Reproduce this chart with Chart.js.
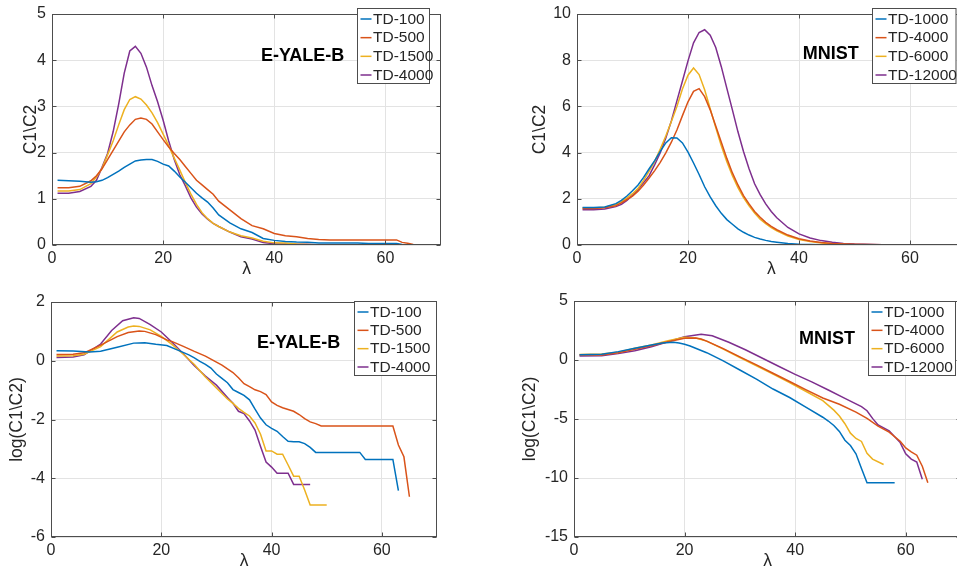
<!DOCTYPE html>
<html><head><meta charset="utf-8">
<script src="https://cdn.jsdelivr.net/npm/chart.js@4.4.1/dist/chart.umd.min.js"></script>
<style>
html,body{margin:0;padding:0;background:#fff;overflow:hidden;width:957px;height:569px;position:relative;}
canvas{position:absolute;}
</style></head><body>
<canvas id="c1" width="470" height="285" style="left:0;top:0"></canvas>
<canvas id="c2" width="510" height="285" style="left:480px;top:0"></canvas>
<canvas id="c3" width="470" height="284" style="left:0;top:285px"></canvas>
<canvas id="c4" width="510" height="284" style="left:480px;top:285px"></canvas>
<script>
// ---------------- DATA ----------------
const xTicks = [0, 20, 40, 60];
const yTicksYale = [0, 1, 2, 3, 4, 5];
const yTicksMnist = [0, 2, 4, 6, 8, 10];
const yTicksYaleLog = [-6, -4, -2, 0, 2];
const yTicksMnistLog = [-15, -10, -5, 0, 5];

const yaleLabels = ['TD-100', 'TD-500', 'TD-1500', 'TD-4000'];
const mnistLabels = ['TD-1000', 'TD-4000', 'TD-6000', 'TD-12000'];

// E-YALE-B, C1\C2
const yaleX = [1,3,5,7,8,9,10,11,12,13,14,15,16,17,18,19,20,21,22,23,24,25,26,27,28,29,30,32,34,36,38,40,42,44,46,48,50,55,57,60,62,63,64,65,66,70];
const yaleTD100 = [1.40,1.39,1.38,1.36,1.37,1.40,1.46,1.53,1.60,1.68,1.75,1.82,1.84,1.85,1.85,1.81,1.75,1.71,1.60,1.47,1.36,1.24,1.12,1.02,0.93,0.80,0.65,0.48,0.35,0.27,0.14,0.10,0.075,0.063,0.059,0.044,0.044,0.044,0.035,0.035,0.035,0.012,0,0,0,0];
const yaleTD500 = [1.24,1.24,1.27,1.39,1.50,1.65,1.85,2.05,2.25,2.45,2.60,2.72,2.75,2.72,2.62,2.45,2.28,2.12,1.98,1.85,1.70,1.55,1.40,1.30,1.20,1.10,0.95,0.76,0.57,0.42,0.35,0.25,0.20,0.18,0.14,0.12,0.11,0.11,0.11,0.11,0.11,0.057,0.038,0.01,0,0];
const yaleTD1500 = [1.17,1.17,1.20,1.33,1.47,1.66,1.95,2.25,2.60,2.93,3.15,3.21,3.16,3.03,2.86,2.65,2.40,2.15,1.88,1.62,1.35,1.10,0.88,0.70,0.57,0.47,0.40,0.28,0.20,0.15,0.08,0.046,0.042,0.02,0.012,0.007,0.007,0,0,0,0,0,0,0,0,0];
const yaleTD4000 = [1.12,1.12,1.16,1.27,1.40,1.68,1.98,2.45,3.05,3.72,4.20,4.30,4.15,3.85,3.45,3.10,2.70,2.25,1.85,1.52,1.28,1.02,0.82,0.67,0.56,0.47,0.40,0.28,0.18,0.13,0.055,0.027,0.022,0.015,0.015,0,0,0,0,0,0,0,0,0,0,0];

// MNIST, C1\C2
const mnistX = [1,3,5,7,8,9,10,11,12,13,14,15,16,17,18,19,20,21,22,23,24,25,26,27,28,29,30,31,32,33,34,35,36,38,40,42,44,46,48,50,55,60,65,70];
const mnistTD1000 = [1.62,1.62,1.65,1.79,1.93,2.12,2.35,2.60,2.93,3.30,3.65,4.05,4.42,4.64,4.63,4.42,4.02,3.55,3.05,2.52,2.08,1.70,1.37,1.10,0.90,0.70,0.55,0.43,0.33,0.26,0.20,0.15,0.12,0.07,0.035,0.018,0.009,0.005,0.003,0.001,0,0,0,0];
const mnistTD4000 = [1.58,1.58,1.61,1.70,1.82,1.97,2.12,2.33,2.60,2.90,3.22,3.58,3.99,4.45,4.98,5.60,6.20,6.65,6.77,6.42,5.85,5.15,4.45,3.75,3.12,2.60,2.14,1.78,1.45,1.20,0.98,0.81,0.66,0.43,0.27,0.17,0.11,0.07,0.045,0.03,0.01,0.003,0,0];
const mnistTD6000 = [1.60,1.60,1.63,1.75,1.88,2.04,2.22,2.45,2.80,3.20,3.62,4.15,4.72,5.35,6.00,6.75,7.35,7.66,7.38,6.72,5.90,5.08,4.30,3.60,3.00,2.48,2.05,1.70,1.38,1.12,0.92,0.75,0.61,0.39,0.24,0.15,0.09,0.05,0.025,0.008,0,0,0,0];
const mnistTD12000 = [1.53,1.53,1.56,1.66,1.76,1.93,2.15,2.40,2.70,3.00,3.48,4.00,4.63,5.37,6.24,7.10,7.97,8.75,9.20,9.32,9.08,8.55,7.72,6.78,5.85,4.90,4.05,3.30,2.65,2.18,1.78,1.45,1.18,0.76,0.48,0.30,0.19,0.12,0.07,0.045,0.012,0.003,0,0];

// E-YALE-B, log(C1\C2)
const yaleLogX100 = [1,4,7,9,12,15,17,19,21,23,25,26,27,28,29,30,31,32,33,34,35,36,37,38,39,40,41,42,43,44,45,46,47,48,56,57,62,63];
const yaleLog100 = [0.34,0.33,0.30,0.32,0.46,0.60,0.61,0.56,0.52,0.36,0.20,0.10,-0.02,-0.12,-0.25,-0.45,-0.60,-0.75,-0.98,-1.08,-1.18,-1.33,-1.65,-1.95,-2.18,-2.30,-2.40,-2.58,-2.74,-2.76,-2.76,-2.82,-2.95,-3.12,-3.12,-3.36,-3.36,-4.42];
const yaleLogX500 = [1,4,6,9,12,14,16,17,19,21,22,24,26,28,30,31,32,33,34,35,36,37,38,39,40,41,42,43,44,45,46,47,48,49,62,63,64,65];
const yaleLog500 = [0.21,0.22,0.27,0.53,0.82,0.96,1.01,1.00,0.89,0.71,0.65,0.49,0.32,0.16,-0.05,-0.15,-0.28,-0.40,-0.58,-0.78,-0.88,-0.99,-1.05,-1.15,-1.40,-1.52,-1.60,-1.66,-1.72,-1.83,-1.97,-2.08,-2.14,-2.22,-2.22,-2.87,-3.27,-4.63];
const yaleLogX1500 = [1,4,6,9,12,14,15,16,18,20,22,24,26,28,30,32,33,34,35,36,37,38,39,40,41,42,43,44,45,46,47,50];
const yaleLog1500 = [0.16,0.17,0.22,0.48,0.98,1.15,1.18,1.17,1.05,0.83,0.55,0.22,-0.13,-0.55,-0.93,-1.30,-1.45,-1.62,-1.76,-1.88,-2.12,-2.50,-3.07,-3.07,-3.18,-3.18,-3.55,-3.93,-3.93,-4.40,-4.91,-4.91];
const yaleLogX4000 = [1,4,6,9,11,13,15,16,18,20,22,24,26,28,30,32,33,34,35,36,37,38,39,40,41,43,44,47];
const yaleLog4000 = [0.11,0.13,0.20,0.57,1.03,1.36,1.46,1.44,1.23,0.98,0.62,0.24,-0.17,-0.52,-0.83,-1.25,-1.45,-1.72,-1.80,-2.05,-2.36,-2.92,-3.45,-3.62,-3.83,-3.83,-4.21,-4.21];

// MNIST, log(C1\C2)
const mnistLogX1000 = [1,5,8,11,14,16,18,19,20,21,22,24,27,30,33,36,39,42,45,46,47,48,49,50,51,52,53,58];
const mnistLog1000 = [0.45,0.48,0.71,0.99,1.27,1.44,1.50,1.44,1.33,1.19,1.00,0.62,-0.07,-0.85,-1.62,-2.46,-3.18,-4.02,-4.85,-5.17,-5.55,-6.05,-6.80,-7.25,-7.95,-9.20,-10.40,-10.40];
const mnistLogX4000 = [1,5,8,11,14,17,20,22,23,24,27,30,33,36,39,42,45,48,51,53,55,57,59,60,61,62,63,64];
const mnistLog4000 = [0.42,0.43,0.62,0.90,1.21,1.55,1.84,1.87,1.78,1.60,0.97,0.27,-0.41,-1.12,-1.82,-2.53,-3.22,-3.75,-4.42,-4.95,-5.60,-6.12,-6.88,-7.45,-7.78,-8.07,-9.00,-10.40];
const mnistLogX6000 = [1,5,8,11,14,17,20,22,24,27,30,33,36,39,42,45,47,48,49,50,51,52,53,54,56];
const mnistLog6000 = [0.47,0.50,0.65,0.99,1.27,1.64,1.92,1.86,1.60,0.92,0.21,-0.49,-1.20,-1.91,-2.67,-3.44,-4.25,-4.75,-5.40,-6.20,-6.65,-6.90,-7.90,-8.40,-8.86];
const mnistLogX12000 = [1,5,8,11,14,17,20,23,25,28,31,34,37,40,43,46,49,52,53,54,55,57,59,60,61,62,63];
const mnistLog12000 = [0.34,0.37,0.54,0.79,1.13,1.55,1.98,2.18,2.05,1.50,0.87,0.17,-0.53,-1.22,-1.85,-2.54,-3.25,-3.95,-4.30,-4.95,-5.50,-6.00,-7.00,-7.95,-8.40,-8.65,-10.10];

// ---------------- STYLE ----------------
const COLORS = ['#0072BD', '#D95319', '#EDB120', '#7E2F8E'];
const FONT = "'Liberation Sans', Arial, Helvetica, sans-serif";
const TXT = '#262626';
const GRID = '#e3e3e3';
const AXIS = '#4d4d4d';

function pts(xs, ys) { return xs.map((x, i) => ({ x: x, y: ys[i] })); }

const panels = [
  { id: 'c1', left: 0, top: 0, w: 470, h: 285, area: { l: 52, t: 9, r: 441, b: 245 },
    yMin: 0, yMax: 5, yTicks: yTicksYale, yLabel: 'C1\\C2', yLabelX: 31,
    title: { text: 'E-YALE-B', x: 45.1, y: 4.09 },
    legend: { l: 357, t: 8, r: 430, b: 84 },
    labels: yaleLabels,
    series: [pts(yaleX, yaleTD100), pts(yaleX, yaleTD500), pts(yaleX, yaleTD1500), pts(yaleX, yaleTD4000)] },
  { id: 'c2', left: 480, top: 0, w: 510, h: 285, area: { l: 577, t: 9, r: 965.5, b: 245 },
    yMin: 0, yMax: 10, yTicks: yTicksMnist, yLabel: 'C1\\C2', yLabelX: 540,
    title: { text: 'MNIST', x: 45.7, y: 8.26 },
    legend: { l: 872, t: 8, r: 956.5, b: 84 },
    labels: mnistLabels,
    series: [pts(mnistX, mnistTD1000), pts(mnistX, mnistTD4000), pts(mnistX, mnistTD6000), pts(mnistX, mnistTD12000)] },
  { id: 'c3', left: 0, top: 285, w: 470, h: 284, area: { l: 51, t: 302, r: 437, b: 537 },
    yMin: -6, yMax: 2, yTicks: yTicksYaleLog, yLabel: 'log(C1\\C2)', yLabelX: 17,
    title: { text: 'E-YALE-B', x: 44.9, y: 0.6 },
    legend: { l: 354, t: 301, r: 437, b: 376 },
    labels: yaleLabels,
    series: [pts(yaleLogX100, yaleLog100), pts(yaleLogX500, yaleLog500), pts(yaleLogX1500, yaleLog1500), pts(yaleLogX4000, yaleLog4000)] },
  { id: 'c4', left: 480, top: 285, w: 510, h: 284, area: { l: 574, t: 301, r: 961, b: 537 },
    yMin: -15, yMax: 5, yTicks: yTicksMnistLog, yLabel: 'log(C1\\C2)', yLabelX: 530,
    title: { text: 'MNIST', x: 45.75, y: 1.78 },
    legend: { l: 868, t: 301, r: 956, b: 376 },
    labels: mnistLabels,
    series: [pts(mnistLogX1000, mnistLog1000), pts(mnistLogX4000, mnistLog4000), pts(mnistLogX6000, mnistLog6000), pts(mnistLogX12000, mnistLog12000)] }
];

const decor = {
  id: 'decor',
  afterDraw(chart, args, opts) {
    const p = opts.panel;
    const ctx = chart.ctx;
    const a = chart.chartArea;
    const xs = chart.scales.x, ys = chart.scales.y;
    ctx.save();
    // box
    ctx.strokeStyle = AXIS; ctx.lineWidth = 1;
    const L = Math.round(a.left) + 0.5, R = Math.round(a.right) - 0.5, T = Math.round(a.top) + 0.5, B = Math.round(a.bottom) - 0.5;
    ctx.strokeRect(L, T, R - L, B - T);
    // inward ticks on all four sides
    const tl = 4;
    ctx.beginPath();
    xTicks.forEach(v => {
      const px = Math.round(xs.getPixelForValue(v)) + 0.5;
      ctx.moveTo(px, B); ctx.lineTo(px, B - tl);
      ctx.moveTo(px, T); ctx.lineTo(px, T + tl);
    });
    p.yTicks.forEach(v => {
      const py = Math.round(ys.getPixelForValue(v)) + 0.5;
      ctx.moveTo(L, py); ctx.lineTo(L + tl, py);
      ctx.moveTo(R, py); ctx.lineTo(R - tl, py);
    });
    ctx.stroke();
    // axis labels
    ctx.fillStyle = TXT;
    ctx.font = '17.5px ' + FONT;
    ctx.textAlign = 'center'; ctx.textBaseline = 'middle';
    ctx.fillText('\u03BB', (a.left + a.right) / 2, a.bottom + 24);
    ctx.save();
    ctx.translate(p.yLabelX - p.left, (a.top + a.bottom) / 2);
    ctx.rotate(-Math.PI / 2);
    ctx.fillText(p.yLabel, 0, 0);
    ctx.restore();
    // annotation
    ctx.fillStyle = '#000';
    ctx.font = 'bold 18px ' + FONT;
    ctx.fillText(p.title.text, xs.getPixelForValue(p.title.x), ys.getPixelForValue(p.title.y));
    // legend
    const lg = p.legend;
    const bl = lg.l - p.left + 0.5, bt = lg.t - p.top + 0.5, br = lg.r - p.left - 0.5, bb = lg.b - p.top - 0.5;
    ctx.fillStyle = '#fff';
    ctx.fillRect(bl, bt, br - bl, bb - bt);
    ctx.strokeStyle = AXIS; ctx.lineWidth = 1;
    ctx.strokeRect(bl, bt, br - bl, bb - bt);
    const rowH = (lg.b - lg.t - 20) / 3;
    ctx.font = '15.5px ' + FONT;
    ctx.textAlign = 'left';
    chart.data.datasets.forEach((ds, i) => {
      const cy = lg.t - p.top + 11 + i * rowH;
      ctx.strokeStyle = ds.borderColor; ctx.lineWidth = 1.5;
      ctx.beginPath();
      ctx.moveTo(bl + 3, cy); ctx.lineTo(bl + 14, cy);
      ctx.stroke();
      ctx.fillStyle = TXT;
      ctx.fillText(ds.label, bl + 15.5, cy + 0.5);
    });
    ctx.restore();
  }
};

panels.forEach(p => {
  const a = p.area;
  new Chart(document.getElementById(p.id), {
    type: 'line',
    data: {
      datasets: p.series.map((s, i) => ({
        label: p.labels[i], data: s, borderColor: COLORS[i], backgroundColor: COLORS[i],
        borderWidth: 1.5, pointRadius: 0, tension: 0, fill: false
      }))
    },
    options: {
      responsive: false, animation: false, devicePixelRatio: 1,
      layout: { padding: { left: 0, top: a.t - p.top, right: p.left + p.w - a.r, bottom: 0 } },
      plugins: { legend: { display: false }, tooltip: { enabled: false }, decor: { panel: p } },
      scales: {
        x: {
          type: 'linear', min: 0, max: 70,
          afterBuildTicks: s => { s.ticks = xTicks.map(v => ({ value: v })); },
          afterFit: s => { s.height = p.top + p.h - a.b; },
          ticks: { font: { family: FONT, size: 16, lineHeight: 1 }, color: TXT, padding: 6, maxRotation: 0, autoSkip: false },
          grid: { color: GRID, drawTicks: false, lineWidth: 1 },
          border: { display: false }
        },
        y: {
          type: 'linear', min: p.yMin, max: p.yMax,
          afterBuildTicks: s => { s.ticks = p.yTicks.map(v => ({ value: v })); },
          afterFit: s => { s.width = a.l - p.left; },
          ticks: { font: { family: FONT, size: 16, lineHeight: 1 }, color: TXT, padding: 6, autoSkip: false },
          grid: { color: GRID, drawTicks: false, lineWidth: 1 },
          border: { display: false }
        }
      }
    },
    plugins: [decor]
  });
});
</script>
</body></html>
